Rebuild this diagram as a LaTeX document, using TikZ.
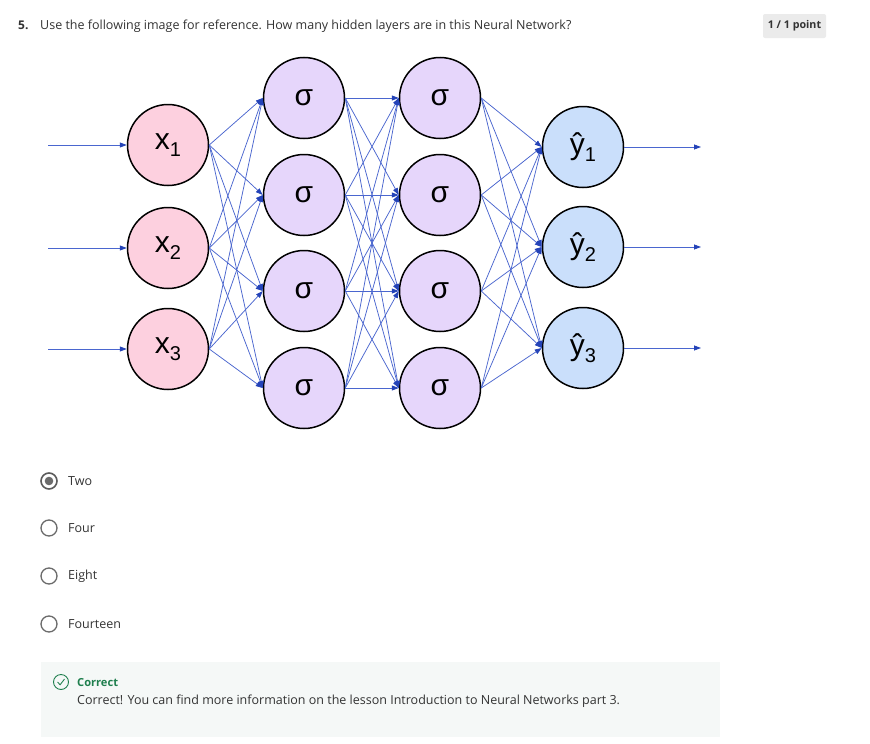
\documentclass[tikz,border=0pt]{standalone}
\usepackage{fontspec}
\setmainfont{Open Sans}
\newfontfamily\netfont{Liberation Sans}
\usetikzlibrary{arrows.meta}

\definecolor{wire}{HTML}{4A66CF}
\definecolor{wiretip}{HTML}{2443B8}
\definecolor{infill}{HTML}{FDD0DF}
\definecolor{hidfill}{HTML}{E6D6FB}
\definecolor{outfill}{HTML}{CADFFB}
\definecolor{qtext}{HTML}{333333}
\definecolor{radio}{HTML}{6B6B6B}
\definecolor{okgreen}{HTML}{1F7F4E}
\definecolor{fbfill}{HTML}{F5F8F7}
\definecolor{badge}{HTML}{EBEBEB}

\tikzset{
  neuron/.style={circle, draw=black, line width=1.5pt, minimum size=81pt,
    inner sep=0pt, font=\netfont\fontsize{30}{30}\selectfont},
  inneuron/.style={neuron, fill=infill},
  hidneuron/.style={neuron, fill=hidfill},
  outneuron/.style={neuron, fill=outfill},
  wireline/.style={draw=wire, line width=0.75pt,
    -{Triangle[length=7pt,width=5pt,color=wiretip,fill=wiretip]}},
  uitext/.style={font=\fontsize{12.5}{14}\selectfont, text=qtext, inner sep=0pt},
  optext/.style={uitext, anchor=west, font=\fontsize{12.5}{14}\selectfont},
  radiobtn/.style={circle, draw=radio, line width=1.3pt, minimum size=16pt, inner sep=0pt}
}

\newcommand{\sublabel}[2]{#1\raisebox{-7pt}{\fontsize{20}{20}\selectfont #2}}

\begin{document}
\begin{tikzpicture}[x=1pt,y=-1pt]
\useasboundingbox (0,0) rectangle (870,744);
\fill[white] (0,0) rectangle (870,744);

% question header
\node[uitext, anchor=base west, font=\fontsize{12}{14}\selectfont\bfseries] (qnum) at (18,29) {5.};
\node[uitext, anchor=base west] (qtxt) at (40,29) {Use the following image for reference. How many hidden layers are in this Neural Network?};
\node[fill=badge, rounded corners=2pt, minimum width=63pt, minimum height=24pt, inner sep=0pt,
  font=\fontsize{10.7}{12}\selectfont\bfseries, text=qtext] (score) at (794.5,26) {1 / 1 point};

% network layers
\foreach \i/\y in {1/145,2/248,3/349}
  \node[inneuron] (i\i) at (168,\y) {\sublabel{x}{\i}};
\foreach \i/\y in {1/98,2/195,3/291,4/388} {
  \node[hidneuron] (h\i) at (304,\y) {σ};
  \node[hidneuron] (g\i) at (440,\y) {σ};
}
\foreach \i/\y in {1/147,2/247,3/348}
  \node[outneuron] (o\i) at (583,\y) {\sublabel{ŷ}{\i}};

% free ends of the input and output arrows
\foreach \i/\y in {1/145,2/248,3/349}
  \coordinate (in\i) at (48,\y);
\foreach \i/\y in {1/147,2/247,3/348}
  \coordinate (out\i) at (701,\y);

% connections
\foreach \a in {1,2,3}
  \draw[wireline] (in\a) -- (i\a.west);
\foreach \a in {1,2,3}
  \foreach \b in {1,2,3,4}
    \draw[wireline] (i\a.east) -- (h\b.west);
\foreach \a in {1,2,3,4}
  \foreach \b in {1,2,3,4}
    \draw[wireline] (h\a.east) -- (g\b.west);
\foreach \a in {1,2,3,4}
  \foreach \b in {1,2,3}
    \draw[wireline] (g\a.east) -- (o\b.west);
\foreach \a in {1,2,3}
  \draw[wireline] (o\a.east) -- (out\a);

% answer options
\node[radiobtn, draw=radio!85!black, line width=1.6pt] (r1) at (49,481) {};
\fill[radio] (r1.center) circle (4.3pt);
\node[radiobtn] (r2) at (49,528) {};
\node[radiobtn] (r3) at (49,576) {};
\node[radiobtn] (r4) at (49,624) {};
\node[optext] (t1) at (68,481) {Two};
\node[optext] (t2) at (68,528) {Four};
\node[optext] (t3) at (68,576) {Eight};
\node[optext] (t4) at (68,624) {Fourteen};

% feedback panel
\fill[fbfill] (41,662) rectangle (720,737);
\node[circle, draw=okgreen, line width=0.9pt, minimum size=15pt, inner sep=0pt] (ok) at (61,682) {};
\draw[okgreen, line width=0.9pt, line cap=round, line join=round]
  ([shift={(-3.2,0.3)}]ok.center) -- ([shift={(-0.9,2.8)}]ok.center) -- ([shift={(3.4,-2.8)}]ok.center);
\node[uitext, anchor=base west, text=okgreen, font=\fontsize{11.1}{13}\selectfont\bfseries] (oklbl) at (77,686) {Correct};
\node[uitext, anchor=base west] (okmsg) at (77,704.5) {Correct! You can find more information on the lesson Introduction to Neural Networks part 3.};
\end{tikzpicture}
\end{document}
